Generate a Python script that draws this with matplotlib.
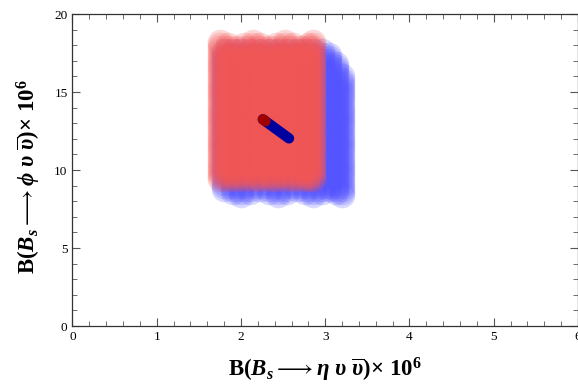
import numpy as np
import matplotlib
matplotlib.use("Agg")
import matplotlib.pyplot as plt
from matplotlib.ticker import MultipleLocator

plt.rcParams["font.family"] = ["Liberation Serif", "DejaVu Serif"]
plt.rcParams["mathtext.fontset"] = "custom"
plt.rcParams["mathtext.rm"] = "Liberation Serif:bold"
plt.rcParams["mathtext.bf"] = "Liberation Serif:bold"
plt.rcParams["mathtext.it"] = "Liberation Serif:italic:bold"
plt.rcParams["mathtext.fallback"] = "stix"

# Scan grid: x columns with the lowest and highest y reached in each column
blue_x = [1.80, 1.91, 2.00, 2.11, 2.22, 2.33, 2.44, 2.55, 2.66, 2.76,
          2.86, 2.96, 3.05, 3.13, 3.20]
blue_ylo = [8.8, 8.6, 8.4, 8.6, 8.8, 8.6, 8.4, 8.6, 8.8, 8.6,
            8.4, 8.6, 8.8, 8.6, 8.4]
blue_yhi = [17.6, 17.6, 17.6, 17.6, 17.6, 17.6, 17.6, 17.6, 17.6, 17.6,
            17.6, 17.6, 17.4, 16.8, 16.0]
red_x = [1.75, 1.84, 1.94, 2.04, 2.14, 2.23, 2.33, 2.42, 2.52, 2.62,
         2.71, 2.79, 2.86]
red_ylo = [9.4, 9.4, 9.4, 9.4, 9.4, 9.4, 9.4, 9.4, 9.4, 9.4,
           9.4, 9.4, 9.4]
red_yhi = [18.2, 18.0, 17.8, 18.0, 18.2, 18.0, 17.8, 18.0, 18.2, 18.0,
           17.8, 18.0, 18.2]
scan_y = [8.4, 8.6, 8.8, 9.0, 9.2, 9.4, 9.6, 9.8, 10.0, 10.2, 10.4, 10.6,
          10.8, 11.0, 11.2, 11.4, 11.6, 11.8, 12.0, 12.2, 12.4, 12.6, 12.8,
          13.0, 13.2, 13.4, 13.6, 13.8, 14.0, 14.2, 14.4, 14.6, 14.8, 15.0,
          15.2, 15.4, 15.6, 15.8, 16.0, 16.2, 16.4, 16.6, 16.8, 17.0, 17.2,
          17.4, 17.6, 17.8, 18.0, 18.2]

# Benchmark trajectory
path_x = [2.26, 2.57]
path_y = [13.25, 12.03]


def grid_points(xs, lo, hi, ys):
    px, py = [], []
    for x, a, b in zip(xs, lo, hi):
        for y in ys:
            if a - 1e-9 <= y <= b + 1e-9:
                px.append(x)
                py.append(y)
    return px, py


fig = plt.figure(figsize=(5.78, 3.90), dpi=100)
ax = fig.add_axes([0.1254, 0.164, 0.8746, 0.800])

bx, by = grid_points(blue_x, blue_ylo, blue_yhi, scan_y)
rx, ry = grid_points(red_x, red_ylo, red_yhi, scan_y)
ax.scatter(bx, by, s=340, color="#5555FF", alpha=0.22, linewidths=0, zorder=2)
ax.scatter(rx, ry, s=340, color="#F45656", alpha=0.22, linewidths=0, zorder=3)

ax.plot(path_x, path_y, color="#00009E", lw=7.5, solid_capstyle="round", zorder=4)
ax.plot([path_x[0], path_x[0] + 0.03], [path_y[0], path_y[0] - 0.12],
        color="#A00000", lw=7.5, solid_capstyle="round", zorder=5)

ax.set_xlim(0, 6)
ax.set_ylim(0, 20)
ax.xaxis.set_major_locator(MultipleLocator(1))
ax.xaxis.set_minor_locator(MultipleLocator(0.2))
ax.yaxis.set_major_locator(MultipleLocator(5))
ax.yaxis.set_minor_locator(MultipleLocator(1))
ax.tick_params(which="both", direction="in", top=True, right=True,
               color="#555555", labelsize=9.5)
ax.tick_params(which="major", length=6, width=0.8)
ax.tick_params(which="minor", length=3.5, width=0.6)
for sp in ax.spines.values():
    sp.set_color("#333333")
    sp.set_linewidth(0.9)

ax.set_xlabel(r"$\mathrm{B}(B_s\longrightarrow\eta\ \upsilon\ \overline{\upsilon})\mathrm{\times\ 10^6}$",
              fontsize=16.5, labelpad=9)
ax.set_ylabel(r"$\mathrm{B}(B_s\longrightarrow\phi\ \upsilon\ \overline{\upsilon})\mathrm{\times\ 10^6}$",
              fontsize=16.5)
ax.yaxis.set_label_coords(-0.058, 0.478)

fig.savefig("out.png", dpi=100)
